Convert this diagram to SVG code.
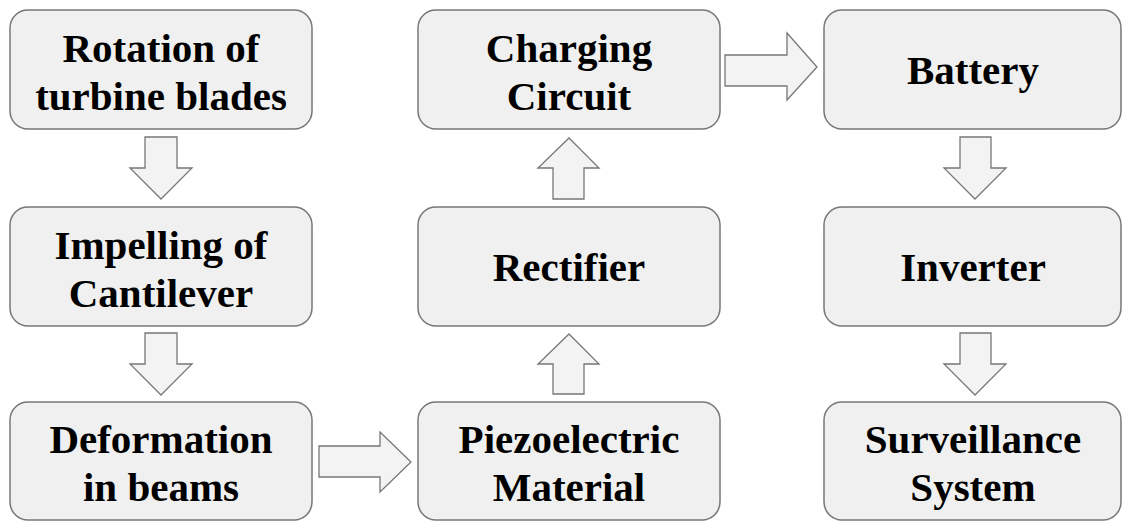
<svg xmlns="http://www.w3.org/2000/svg" width="1123" height="523" viewBox="0 0 1123 523">
<style>
.box{fill:#f0f0f0;stroke:#777777;stroke-width:1.5}
.arr{fill:#f3f3f3;stroke:#777777;stroke-width:1.3;stroke-linejoin:miter}
</style>
<rect width="1123" height="523" fill="#ffffff"/>
<g id="n1"><rect class="box" x="10" y="10" width="302" height="119" rx="18"/><text font-family="Liberation Serif" font-weight="bold" font-size="41" text-anchor="middle" x="161" y="62">Rotation of</text><text font-family="Liberation Serif" font-weight="bold" font-size="41" text-anchor="middle" x="161" y="110">turbine blades</text></g>
<g id="n2"><rect class="box" x="10" y="207" width="302" height="119" rx="18"/><text font-family="Liberation Serif" font-weight="bold" font-size="41" text-anchor="middle" x="161" y="259">Impelling of</text><text font-family="Liberation Serif" font-weight="bold" font-size="41" text-anchor="middle" x="161" y="307">Cantilever</text></g>
<g id="n3"><rect class="box" x="10" y="402" width="302" height="118" rx="18"/><text font-family="Liberation Serif" font-weight="bold" font-size="41" text-anchor="middle" x="161" y="453">Deformation</text><text font-family="Liberation Serif" font-weight="bold" font-size="41" text-anchor="middle" x="161" y="501">in beams</text></g>
<g id="n4"><rect class="box" x="418" y="402" width="302" height="118" rx="18"/><text font-family="Liberation Serif" font-weight="bold" font-size="41" text-anchor="middle" x="569" y="453">Piezoelectric</text><text font-family="Liberation Serif" font-weight="bold" font-size="41" text-anchor="middle" x="569" y="501">Material</text></g>
<g id="n5"><rect class="box" x="418" y="207" width="302" height="119" rx="18"/><text font-family="Liberation Serif" font-weight="bold" font-size="41" text-anchor="middle" x="569" y="281">Rectifier</text></g>
<g id="n6"><rect class="box" x="418" y="10" width="302" height="119" rx="18"/><text font-family="Liberation Serif" font-weight="bold" font-size="41" text-anchor="middle" x="569" y="62">Charging</text><text font-family="Liberation Serif" font-weight="bold" font-size="41" text-anchor="middle" x="569" y="110">Circuit</text></g>
<g id="n7"><rect class="box" x="824" y="10" width="297" height="119" rx="18"/><text font-family="Liberation Serif" font-weight="bold" font-size="41" text-anchor="middle" x="973" y="84">Battery</text></g>
<g id="n8"><rect class="box" x="824" y="207" width="297" height="119" rx="18"/><text font-family="Liberation Serif" font-weight="bold" font-size="41" text-anchor="middle" x="973" y="281">Inverter</text></g>
<g id="n9"><rect class="box" x="824" y="402" width="297" height="118" rx="18"/><text font-family="Liberation Serif" font-weight="bold" font-size="41" text-anchor="middle" x="973" y="453">Surveillance</text><text font-family="Liberation Serif" font-weight="bold" font-size="41" text-anchor="middle" x="973" y="501">System</text></g>
<g id="connectors">
<polygon class="arr" points="145,137 177,137 177,168 192,168 161,199 130,168 145,168"/>
<polygon class="arr" points="145,333 177,333 177,364 192,364 161,395 130,364 145,364"/>
<polygon class="arr" points="319,446 380,446 380,432 411,462 380,492 380,477 319,477"/>
<polygon class="arr" points="553,394 584,394 584,364 599,364 569,334 538,364 553,364"/>
<polygon class="arr" points="553,199 584,199 584,168 599,168 569,138 538,168 553,168"/>
<polygon class="arr" points="725,55 787,55 787,33 817,67 787,100 787,86 725,86"/>
<polygon class="arr" points="960,137 991,137 991,168 1006,168 975,199 944,168 960,168"/>
<polygon class="arr" points="960,333 991,333 991,364 1006,364 975,395 944,364 960,364"/>
</g>
</svg>
